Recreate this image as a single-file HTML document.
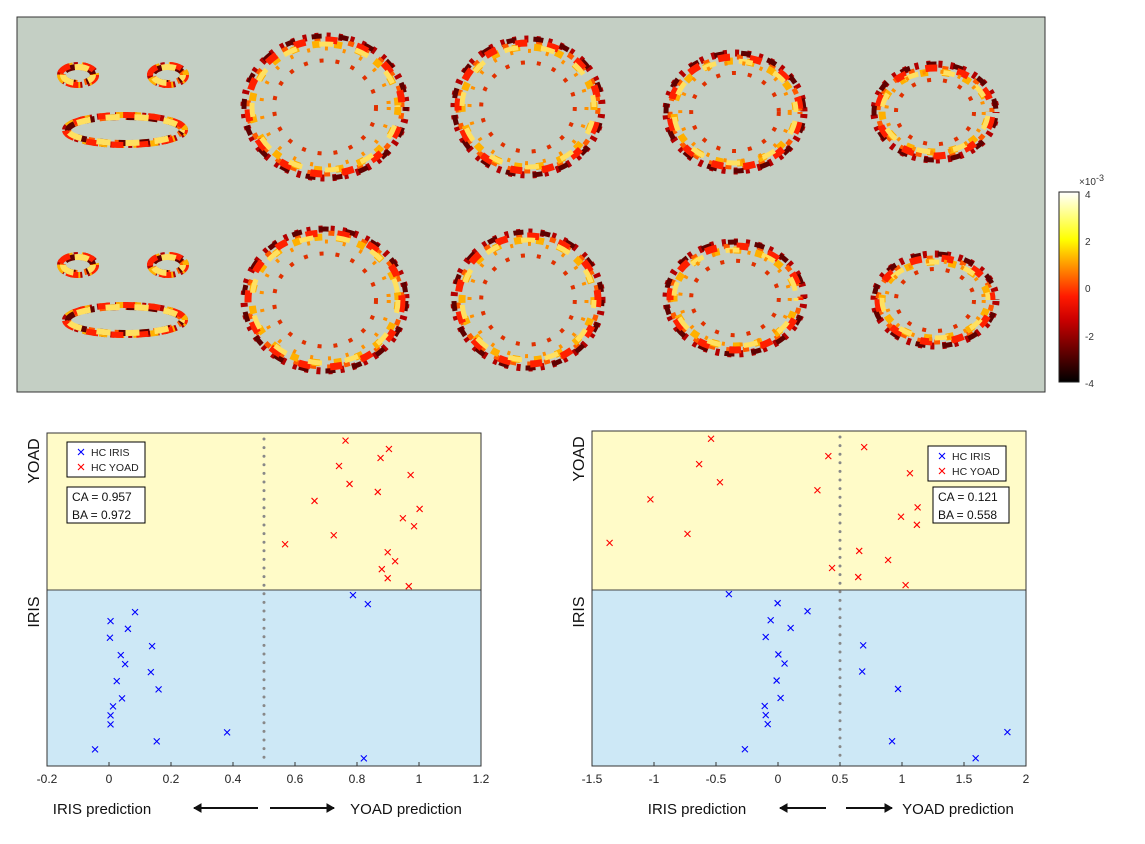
<!DOCTYPE html>
<html><head><meta charset="utf-8">
<style>
body{margin:0;background:#fff;font-family:"Liberation Sans",sans-serif;}
svg{display:block}
</style></head>
<body>
<svg id="root" width="1145" height="844">
<defs>
<linearGradient id="hot" x1="0" y1="1" x2="0" y2="0">
<stop offset="0" stop-color="#000"/><stop offset="0.33" stop-color="#c00"/><stop offset="0.45" stop-color="#ff1a00"/>
<stop offset="0.6" stop-color="#ff8c00"/><stop offset="0.75" stop-color="#ffff00"/><stop offset="1" stop-color="#fff"/>
</linearGradient>
</defs>
<g>
<rect x="17" y="17" width="1028" height="375" fill="#c4cfc4" stroke="#333"/>
<g id="brains"></g>
</g>
<g>
<rect x="1059" y="192" width="20" height="190" fill="url(#hot)" stroke="#222"/>
<text x="1079" y="185" font-size="10" fill="#333">×10<tspan dy="-4" font-size="9">-3</tspan></text>
<g font-size="10" fill="#333">
<text x="1085" y="198">4</text>
<text x="1085" y="245">2</text>
<text x="1085" y="292">0</text>
<text x="1085" y="340">-2</text>
<text x="1085" y="387">-4</text>
</g>
</g>
<g id="plots"></g>
</svg>
<script>
// shared row positions (0 top - 100 bottom) for samples
const yoadRows=[2.3,4.8,7.5,9.9,12.6,15.3,17.7,20.4,22.8,25.6,28.0,30.7,33.4,35.8,38.5,40.9,43.6,46.0];
const irisRows=[48.7,51.4,53.8,56.5,58.8,61.5,64.0,66.7,69.4,71.8,74.5,77.0,79.7,82.1,84.8,87.5,89.9,92.6,95.0,97.7];
// left plot predictions
const leftYoad=[0.763,0.903,0.876,0.742,0.973,0.776,0.867,0.663,1.002,0.948,0.984,0.725,0.568,0.899,0.923,0.880,0.899,0.967];
const leftIris=[0.787,0.835,0.084,0.005,0.061,0.003,0.139,0.038,0.052,0.135,0.025,0.160,0.042,0.013,0.005,0.005,0.381,0.154,-0.045,0.822];
const leftTicks=[-0.2,0,0.2,0.4,0.6,0.8,1,1.2];
const leftTickLabels=["-0.2","0","0.2","0.4","0.6","0.8","1","1.2"];
// right plot predictions
const rightYoad=[-0.540,0.695,0.406,-0.636,1.064,-0.468,0.318,-1.029,1.126,0.992,1.120,-0.730,-1.358,0.655,0.888,0.436,0.647,1.029];
const rightIris=[-0.396,-0.003,0.238,-0.059,0.102,-0.099,0.687,0.003,0.053,0.679,-0.011,0.968,0.021,-0.107,-0.099,-0.083,1.850,0.920,-0.267,1.594];
const rightTicks=[-1.5,-1,-0.5,0,0.5,1,1.5,2];
const rightTickLabels=["-1.5","-1","-0.5","0","0.5","1","1.5","2"];

const NS="http://www.w3.org/2000/svg";
function mk(tag,attrs,parent){const e=document.createElementNS(NS,tag);for(const k in attrs)e.setAttribute(k,attrs[k]);parent.appendChild(e);return e;}

// brain slices (image-like decoration)
const brains=document.getElementById('brains');
const slices=[[325,107,85,75],[528,107,78,72],[735,112,73,63],[935,112,65,52],[325,300,85,75],[528,300,78,72],[735,298,73,60],[935,300,65,50]];
const cols=["#b30000","#ff5a00","#ffb000","#600000","#ff2000","#ffe060"];
slices.forEach((s,i)=>{
  const g=mk('g',{},brains);
  
  
  cols.forEach((c,j)=>{
    mk('ellipse',{cx:s[0],cy:s[1],rx:s[2]-4-j%3*4,ry:s[3]-4-j%3*4,fill:'none',stroke:c,'stroke-width':7-j%2*2,'stroke-dasharray':(4+j*2)+' '+(8+j*3),'stroke-dashoffset':j*11+i*5},g);
  });
  mk('ellipse',{cx:s[0],cy:s[1],rx:s[2]*0.6,ry:s[3]*0.62,fill:'none',stroke:'#e03000','stroke-width':4,'stroke-dasharray':'4 12'},g);
  mk('ellipse',{cx:s[0],cy:s[1],rx:s[2]*0.75,ry:s[3]*0.78,fill:'none',stroke:'#ff9000','stroke-width':4,'stroke-dasharray':'3 15'},g);
});
[[110,0],[300,1]].forEach(([cy,r])=>{
  const g=mk('g',{},brains);
  
  
  [[78,cy-35,18,10],[168,cy-35,18,10],[125,cy+20,60,15]].forEach((e,j)=>{
    cols.forEach((c,k)=>mk('ellipse',{cx:e[0],cy:e[1],rx:e[2]-k%2*3,ry:e[3]-k%2*2,fill:'none',stroke:c,'stroke-width':6,'stroke-dasharray':(4+k*2)+' '+(5+k*2),'stroke-dashoffset':k*7+j*3},g));
  });
});

function plot(cfg){
  const root=document.getElementById('plots');
  const g=mk('g',{},root);
  
  
  const {x0,x1,y0,y1,xmin,xmax}=cfg;
  const sx=v=>x0+(v-xmin)/(xmax-xmin)*(x1-x0);
  const sy=p=>y0+p/100*(y1-y0);
  const ymid=590;
  const yb=mk('rect',{x:x0,y:y0,width:x1-x0,height:ymid-y0,fill:'#fffbc8'},g);
  
  
  const ib=mk('rect',{x:x0,y:ymid,width:x1-x0,height:y1-ymid,fill:'#cde8f6'},g);
  
  
  mk('line',{x1:x0,x2:x1,y1:ymid,y2:ymid,stroke:'#444','stroke-width':1},g);
  const th=mk('line',{x1:sx(0.5),x2:sx(0.5),y1:y0+6,y2:y1-6,stroke:'#888','stroke-width':3,'stroke-dasharray':'0 8.6','stroke-linecap':'round'},g);
  
  
  const fr=mk('rect',{x:x0,y:y0,width:x1-x0,height:y1-y0,fill:'none',stroke:'#333','stroke-width':1},g);
  
  
  function marks(vals,rows,color,name){
    vals.forEach((v,i)=>{
      const x=sx(v),y=sy(rows[i]);
      const m=mk('path',{d:`M${x-3},${y-3}L${x+3},${y+3}M${x-3},${y+3}L${x+3},${y-3}`,stroke:color,'stroke-width':1.1,fill:'none'},g);
      
      
    });
  }
  marks(cfg.yoad,yoadRows,'#ff0000','point-hc-yoad');
  marks(cfg.iris,irisRows,'#0000ff','point-hc-iris');
  cfg.ticks.forEach((t,i)=>{
    mk('line',{x1:sx(t),x2:sx(t),y1:y1,y2:y1-4,stroke:'#333'},g);
    const tx=mk('text',{x:sx(t),y:y1+17,'font-size':12,fill:'#222','text-anchor':'middle'},g);
    tx.textContent=cfg.tickLabels[i];
    
    
  });
  const lab=(txt,x,y,rot,name,size)=>{const t=mk('text',{x:x,y:y,'font-size':size||15,fill:'#111','text-anchor':'middle',transform:rot?`rotate(-90 ${x} ${y})`:''},g);t.textContent=txt;};
  lab('YOAD',x0-8,y0+28,true,'yoad-axis-label',16);
  lab('IRIS',x0-8,ymid+22,true,'iris-axis-label',16);
  const L=cfg.legend;
  const lg=mk('g',{},g);
  
  
  mk('rect',{x:L[0],y:L[1],width:78,height:35,fill:'#fff',stroke:'#000'},lg);
  [['HC IRIS','#0000ff'],['HC YOAD','#ff0000']].forEach((e,i)=>{
    const x=L[0]+14,y=L[1]+10+i*15;
    mk('path',{d:`M${x-3},${y-3}L${x+3},${y+3}M${x-3},${y+3}L${x+3},${y-3}`,stroke:e[1],'stroke-width':1.1},lg);
    const t=mk('text',{x:L[0]+24,y:y+4,'font-size':10.5,fill:'#222'},lg);t.textContent=e[0];
    
    
  });
  const S=cfg.stats;
  const sg=mk('g',{},g);
  
  
  mk('rect',{x:S[0],y:S[1],width:S[2],height:36,fill:'#fff',stroke:'#000'},sg);
  [cfg.ca,cfg.ba].forEach((s,i)=>{const t=mk('text',{x:S[0]+5,y:S[1]+14+i*18,'font-size':12,fill:'#111'},sg);t.textContent=s;});
  const b=cfg.bottom;
  lab('IRIS prediction',b[0],814,false,'iris-prediction-label',15);
  lab('YOAD prediction',b[1],814,false,'yoad-prediction-label',15);
  const ar=mk('g',{stroke:'#111','stroke-width':2,fill:'#111'},g);
  
  
  mk('line',{x1:b[2],x2:b[2]+b[4],y1:808,y2:808},ar);
  mk('path',{d:`M${b[2]},808l7,-4v8z`,'stroke-width':1},ar);
  mk('line',{x1:b[3],x2:b[3]+b[4],y1:808,y2:808},ar);
  mk('path',{d:`M${b[3]+b[4]},808l-7,-4v8z`,'stroke-width':1},ar);
}
plot({name:'left-scatter',x0:47,x1:481,y0:433,y1:766,xmin:-0.2,xmax:1.2,yoad:leftYoad,iris:leftIris,ticks:leftTicks,tickLabels:leftTickLabels,
  legend:[67,442],stats:[67,487,78],ca:'CA = 0.957',ba:'BA = 0.972',bottom:[102,406,194,270,64]});
plot({name:'right-scatter',x0:592,x1:1026,y0:431,y1:766,xmin:-1.5,xmax:2,yoad:rightYoad,iris:rightIris,ticks:rightTicks,tickLabels:rightTickLabels,
  legend:[928,446],stats:[933,487,76],ca:'CA = 0.121',ba:'BA = 0.558',bottom:[697,958,780,846,46]});
</script>
</body></html>
